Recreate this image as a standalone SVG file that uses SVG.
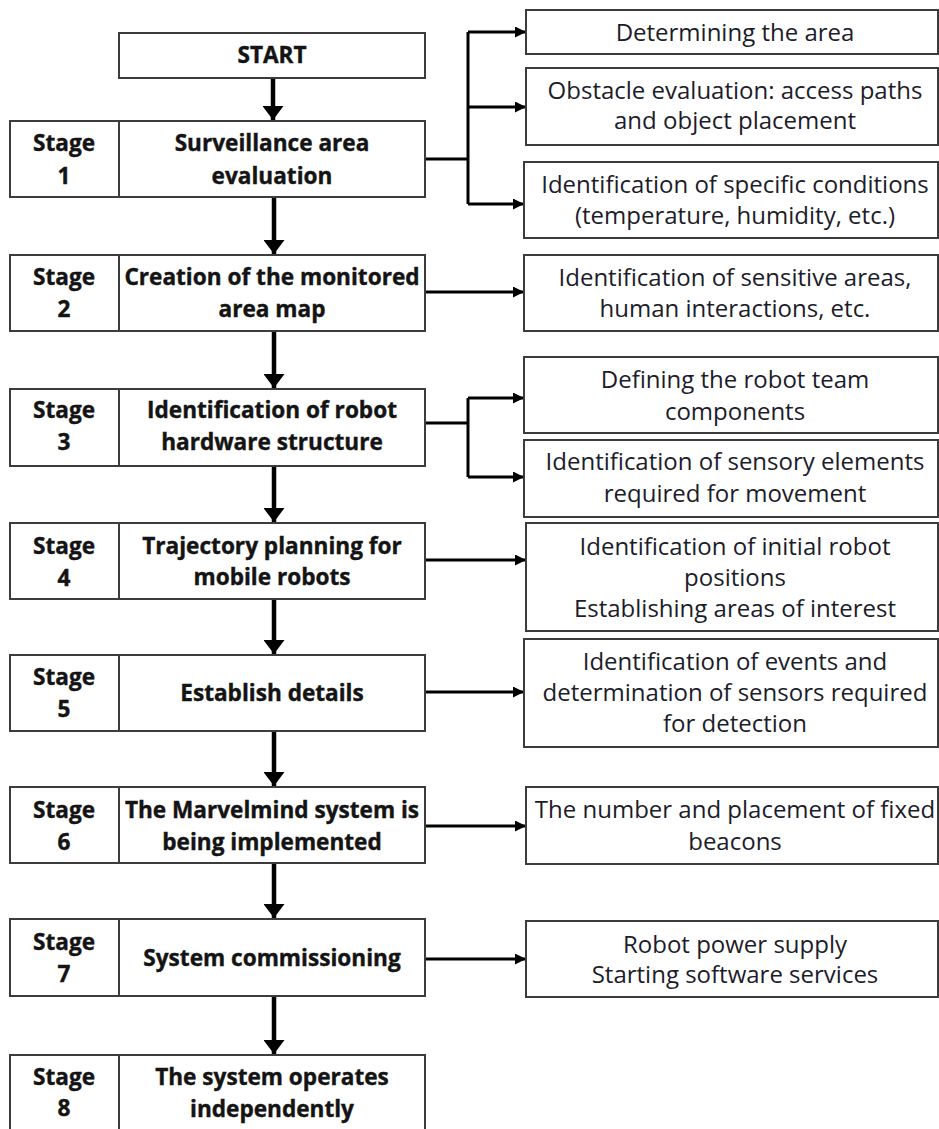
<svg xmlns="http://www.w3.org/2000/svg" width="939" height="1129" viewBox="0 0 939 1129">
<style>
.box{fill:#fff;stroke:#3c3c3c;stroke-width:2}
.b{font-family:"Open Sans","Noto Sans","Liberation Sans",sans-serif;font-weight:700;font-size:22.6px;fill:#141414;stroke:#141414;stroke-width:0.4;text-anchor:middle}
.r{font-family:"Open Sans","Noto Sans","Liberation Sans",sans-serif;font-weight:400;font-size:24px;fill:#1c1c2a;text-anchor:middle}
.v{stroke:#000;stroke-width:4.5;fill:none}
.h{stroke:#000;stroke-width:3;fill:none}
</style>
<defs>
<marker id="av" markerUnits="userSpaceOnUse" markerWidth="14" markerHeight="21" refX="14" refY="10.5" orient="auto"><path d="M0,0 L14,10.5 L0,21 z" fill="#000"/></marker>
<marker id="ah" markerUnits="userSpaceOnUse" markerWidth="11" markerHeight="11" refX="11" refY="5.5" orient="auto"><path d="M0,0 L11,5.5 L0,11 z" fill="#000"/></marker>
</defs>
<rect width="939" height="1129" fill="#fff"/>

<g id="connectors">
<line class="v" x1="273" y1="78" x2="273" y2="120" marker-end="url(#av)"/>
<line class="v" x1="274" y1="197" x2="274" y2="254" marker-end="url(#av)"/>
<line class="v" x1="274" y1="331" x2="274" y2="388" marker-end="url(#av)"/>
<line class="v" x1="274" y1="466" x2="274" y2="522" marker-end="url(#av)"/>
<line class="v" x1="274" y1="599" x2="274" y2="654" marker-end="url(#av)"/>
<line class="v" x1="274" y1="731" x2="274" y2="786" marker-end="url(#av)"/>
<line class="v" x1="274" y1="863" x2="274" y2="918" marker-end="url(#av)"/>
<line class="v" x1="274" y1="996" x2="274" y2="1054" marker-end="url(#av)"/>
<path class="h" d="M425,159 H468 M468,32 V204"/>
<line class="h" x1="468" y1="32" x2="526" y2="32" marker-end="url(#ah)"/>
<line class="h" x1="468" y1="107" x2="526" y2="107" marker-end="url(#ah)"/>
<line class="h" x1="468" y1="204" x2="524" y2="204" marker-end="url(#ah)"/>
<line class="h" x1="425" y1="292" x2="524" y2="292" marker-end="url(#ah)"/>
<path class="h" d="M425,423 H468 M468,398 V477"/>
<line class="h" x1="468" y1="398" x2="524" y2="398" marker-end="url(#ah)"/>
<line class="h" x1="468" y1="477" x2="524" y2="477" marker-end="url(#ah)"/>
<line class="h" x1="425" y1="560" x2="526" y2="560" marker-end="url(#ah)"/>
<line class="h" x1="425" y1="692" x2="524" y2="692" marker-end="url(#ah)"/>
<line class="h" x1="425" y1="826" x2="526" y2="826" marker-end="url(#ah)"/>
<line class="h" x1="425" y1="959" x2="526" y2="959" marker-end="url(#ah)"/>
</g>

<g id="start"><rect class="box" x="119" y="33" width="306" height="45"/><text class="b" x="272" y="63">START</text></g>

<g id="stage1"><rect class="box" x="10" y="121" width="109" height="76"/><rect class="box" x="119" y="121" width="306" height="76"/>
<text class="b" x="64" y="151">Stage</text><text class="b" x="64" y="184">1</text>
<text class="b" x="272" y="151">Surveillance area</text><text class="b" x="272" y="184">evaluation</text></g>

<g id="stage2"><rect class="box" x="10" y="255" width="109" height="76"/><rect class="box" x="119" y="255" width="306" height="76"/>
<text class="b" x="64" y="285">Stage</text><text class="b" x="64" y="317">2</text>
<text class="b" x="272" y="285">Creation of the monitored</text><text class="b" x="272" y="317">area map</text></g>

<g id="stage3"><rect class="box" x="10" y="389" width="109" height="77"/><rect class="box" x="119" y="389" width="306" height="77"/>
<text class="b" x="64" y="418">Stage</text><text class="b" x="64" y="450">3</text>
<text class="b" x="272" y="418">Identification of robot</text><text class="b" x="272" y="450">hardware structure</text></g>

<g id="stage4"><rect class="box" x="10" y="523" width="109" height="76"/><rect class="box" x="119" y="523" width="306" height="76"/>
<text class="b" x="64" y="554">Stage</text><text class="b" x="64" y="586">4</text>
<text class="b" x="272" y="554">Trajectory planning for</text><text class="b" x="272" y="585">mobile robots</text></g>

<g id="stage5"><rect class="box" x="10" y="655" width="109" height="76"/><rect class="box" x="119" y="655" width="306" height="76"/>
<text class="b" x="64" y="685">Stage</text><text class="b" x="64" y="717">5</text>
<text class="b" x="272" y="701">Establish details</text></g>

<g id="stage6"><rect class="box" x="10" y="787" width="109" height="76"/><rect class="box" x="119" y="787" width="306" height="76"/>
<text class="b" x="64" y="818">Stage</text><text class="b" x="64" y="850">6</text>
<text class="b" x="272" y="818">The Marvelmind system is</text><text class="b" x="272" y="850">being implemented</text></g>

<g id="stage7"><rect class="box" x="10" y="919" width="109" height="77"/><rect class="box" x="119" y="919" width="306" height="77"/>
<text class="b" x="64" y="950">Stage</text><text class="b" x="64" y="982">7</text>
<text class="b" x="272" y="966">System commissioning</text></g>

<g id="stage8"><rect class="box" x="10" y="1055" width="109" height="80"/><rect class="box" x="119" y="1055" width="306" height="80"/>
<text class="b" x="64" y="1085">Stage</text><text class="b" x="64" y="1116">8</text>
<text class="b" x="272" y="1085">The system operates</text><text class="b" x="272" y="1117">independently</text></g>

<g id="r1a"><rect class="box" x="526" y="10" width="412" height="44"/><text class="r" x="735" y="41">Determining the area</text></g>
<g id="r1b"><rect class="box" x="526" y="68" width="412" height="77"/><text class="r" x="735" y="99">Obstacle evaluation: access paths</text><text class="r" x="735" y="129">and object placement</text></g>
<g id="r1c"><rect class="box" x="524" y="162" width="414" height="76"/><text class="r" x="735" y="193">Identification of specific conditions</text><text class="r" x="735" y="224">(temperature, humidity, etc.)</text></g>
<g id="r2"><rect class="box" x="524" y="255" width="414" height="76"/><text class="r" x="735" y="286">Identification of sensitive areas,</text><text class="r" x="735" y="317">human interactions, etc.</text></g>
<g id="r3a"><rect class="box" x="524" y="357" width="414" height="76"/><text class="r" x="735" y="388">Defining the robot team</text><text class="r" x="735" y="420">components</text></g>
<g id="r3b"><rect class="box" x="524" y="440" width="414" height="77"/><text class="r" x="735" y="470">Identification of sensory elements</text><text class="r" x="735" y="502">required for movement</text></g>
<g id="r4"><rect class="box" x="526" y="523" width="412" height="108"/><text class="r" x="735" y="555">Identification of initial robot</text><text class="r" x="735" y="586">positions</text><text class="r" x="735" y="617">Establishing areas of interest</text></g>
<g id="r5"><rect class="box" x="524" y="639" width="414" height="108"/><text class="r" x="735" y="670">Identification of events and</text><text class="r" x="735" y="701">determination of sensors required</text><text class="r" x="735" y="732">for detection</text></g>
<g id="r6"><rect class="box" x="526" y="787" width="412" height="77"/><text class="r" x="735" y="818">The number and placement of fixed</text><text class="r" x="735" y="850">beacons</text></g>
<g id="r7"><rect class="box" x="526" y="921" width="412" height="76"/><text class="r" x="735" y="953">Robot power supply</text><text class="r" x="735" y="983">Starting software services</text></g>
</svg>
